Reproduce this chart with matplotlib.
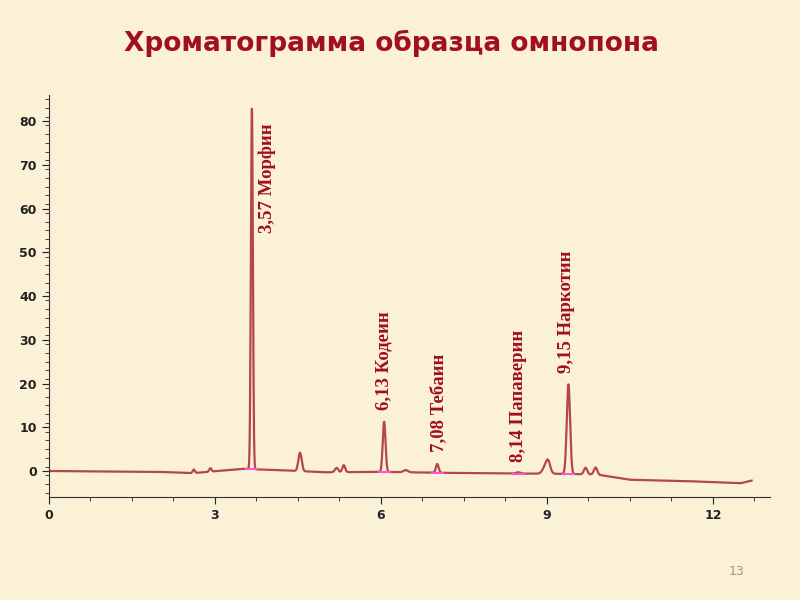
import numpy as np
import matplotlib.pyplot as plt

BG = '#FBF1D6'
LINE = '#B5474B'
DARK_RED = '#A0101E'

# peaks: centre (min), height, width (sigma)
peak_x = [2.62, 2.92, 3.67, 4.54, 5.20, 5.33, 6.06, 6.45, 7.02, 8.48, 8.95, 9.02, 9.39, 9.70, 9.88]
peak_h = [0.8, 0.8, 82.5, 4.2, 1.0, 1.6, 11.5, 0.5, 2.0, 0.3, 1.0, 3.0, 20.5, 1.5, 1.6]
peak_w = [0.02, 0.02, 0.018, 0.03, 0.03, 0.025, 0.025, 0.04, 0.025, 0.04, 0.04, 0.04, 0.03, 0.03, 0.03]

# baseline drift
base_t = [0.0, 2.0, 2.6, 3.5, 4.5, 5.0, 6.0, 7.0, 8.5, 9.0, 9.9, 10.5, 11.5, 12.5, 12.7]
base_v = [0.0, -0.2, -0.5, 0.5, 0.0, -0.3, -0.2, -0.4, -0.6, -0.6, -0.8, -2.0, -2.3, -2.8, -2.2]

labels = ['3,57 Морфин', '6,13 Кодеин', '7,08 Тебаин', '8,14 Папаверин', '9,15 Наркотин']
label_x = [3.94, 6.06, 7.04, 8.48, 9.36]
label_y = [54.5, 14.0, 4.3, 2.0, 22.5]
marker_x = [3.67, 6.06, 7.02, 8.48, 9.39]

t = np.linspace(0, 12.7, 6000)
y = np.interp(t, base_t, base_v)
for c, h, w in zip(peak_x, peak_h, peak_w):
    y += h * np.exp(-0.5 * ((t - c) / w) ** 2)

fig = plt.figure(figsize=(8, 6), dpi=100, facecolor=BG)
fig.text(0.49, 0.928, 'Хроматограмма образца омнопона', ha='center', va='center',
         fontsize=19, fontweight='bold', color=DARK_RED, family='DejaVu Sans')
fig.text(0.93, 0.048, '13', ha='right', va='center', fontsize=9, color='#999999')

ax = fig.add_axes([0.061, 0.172, 0.902, 0.67])
ax.set_facecolor(BG)
ax.plot(t, y, color=LINE, lw=1.6)
for mx in marker_x:
    b = np.interp(mx, base_t, base_v)
    ax.plot([mx - 0.1, mx + 0.1], [b, b], color='#FF55CC', lw=1.5)

for lx, ly, s in zip(label_x, label_y, labels):
    ax.text(lx, ly, s, rotation=90, ha='center', va='bottom', color=DARK_RED,
            fontsize=13.5, fontweight='bold', family='Liberation Serif')

ax.set_xlim(0, 13.04)
ax.set_ylim(-5.9, 86)
ax.set_xticks([0, 3, 6, 9, 12])
ax.set_xticks(np.arange(0, 13.1, 0.75), minor=True)
ax.set_yticks(range(0, 81, 10))
ax.set_yticks(range(-5, 86, 2), minor=True)
for s in ['top', 'right']:
    ax.spines[s].set_visible(False)
ax.spines['left'].set_color('#333333')
ax.spines['bottom'].set_color('#333333')
ax.tick_params(axis='both', which='major', length=5, labelsize=9, colors='#222222')
ax.tick_params(axis='both', which='minor', length=3, colors='#222222')
for lab in ax.get_xticklabels() + ax.get_yticklabels():
    lab.set_fontweight('bold')

fig.savefig('out.png', dpi=100, facecolor=BG)
